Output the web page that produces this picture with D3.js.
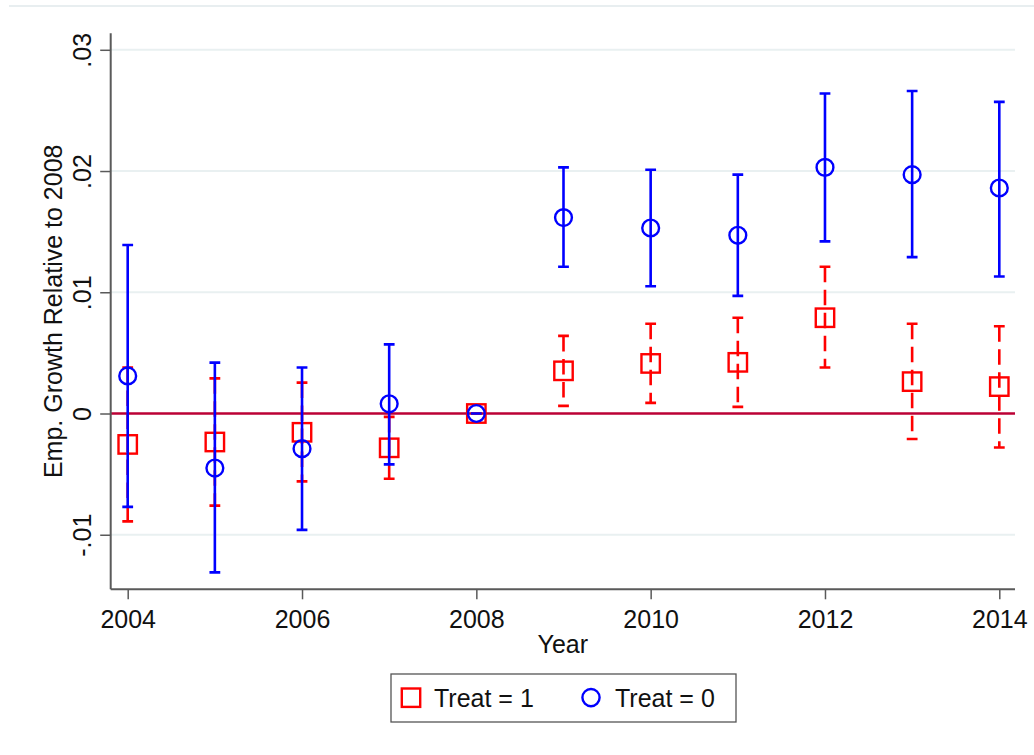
<!DOCTYPE html>
<html>
<head>
<meta charset="utf-8">
<script src="https://cdn.jsdelivr.net/npm/d3@7"></script>
<style>
  html, body { margin: 0; padding: 0; background: #fff; }
  svg { display: block; }
  text { font-family: "Liberation Sans", Arial, sans-serif; fill: #111; }
</style>
</head>
<body>
<svg id="chart" width="1034" height="755"></svg>
<script>
// ---- data ----
const years = [2004, 2005, 2006, 2007, 2008, 2009, 2010, 2011, 2012, 2013, 2014];

// Treat = 1 (red squares)
const treat1Est = [-0.00255, -0.00235, -0.00155, -0.00283, 0, 0.00352, 0.00413, 0.00422, 0.0079, 0.00263, 0.00222];
const treat1Lo  = [-0.0089, -0.0076, -0.0056, -0.00538, 0, 0.00063, 0.00088, 0.00055, 0.0038, -0.0021, -0.0028];
const treat1Hi  = [0.0038, 0.0029, 0.00255, -0.00028, 0, 0.0064, 0.0074, 0.0079, 0.0121, 0.0074, 0.0072];

// Treat = 0 (blue circles)
const treat0Est = [0.0031, -0.0045, -0.0029, 0.0008, 0, 0.01616, 0.0153, 0.0147, 0.0203, 0.0197, 0.0186];
const treat0Lo  = [-0.0077, -0.0131, -0.0096, -0.0042, 0, 0.0121, 0.0105, 0.0097, 0.0142, 0.0129, 0.0113];
const treat0Hi  = [0.0139, 0.0042, 0.0038, 0.0057, 0, 0.0203, 0.0201, 0.0197, 0.0264, 0.0266, 0.0257];

const yTickValues = [-0.01, 0, 0.01, 0.02, 0.03];
const yTickLabels = ["-.01", "0", ".01", ".02", ".03"];
const xTickValues = [2004, 2006, 2008, 2010, 2012, 2014];
const xTickLabels = ["2004", "2006", "2008", "2010", "2012", "2014"];
const legendLabels = ["Treat = 1", "Treat = 0"];
const yTitle = "Emp. Growth Relative to 2008";
const xTitle = "Year";

// ---- layout ----
const svg = d3.select("#chart");
const plotLeft = 110.7, plotRight = 1015, plotTop = 33.3, plotBottom = 589.3;
const x = d3.scaleLinear().domain([2004, 2014]).range([127.7, 999.3]);
const y = d3.scaleLinear().domain([-0.0145, 0.03136]).range([plotBottom, plotTop]);

const RED = "#ff0000", BLUE = "#0000ff", ZERO = "#bb0035";
const GRID = "#e9f0f1", AXIS = "#5a5a5a";

// outer frame top line
svg.append("line").attr("x1", 9).attr("x2", 1034).attr("y1", 6).attr("y2", 6)
  .attr("stroke", "#e8eef0").attr("stroke-width", 2);

// gridlines
svg.append("g").selectAll("line")
  .data(yTickValues.filter(v => v !== 0))
  .join("line")
  .attr("x1", plotLeft).attr("x2", plotRight)
  .attr("y1", d => y(d)).attr("y2", d => y(d))
  .attr("stroke", GRID).attr("stroke-width", 2);

// zero line
svg.append("line")
  .attr("x1", plotLeft).attr("x2", plotRight)
  .attr("y1", y(0)).attr("y2", y(0))
  .attr("stroke", ZERO).attr("stroke-width", 2.5);

// y axis
const yAxis = d3.axisLeft(y).tickValues(yTickValues).tickSize(10.5)
  .tickFormat((d, i) => yTickLabels[i]);
const gy = svg.append("g").attr("transform", `translate(${plotLeft},0)`).call(yAxis);
gy.select(".domain").attr("d", `M0,${plotTop}V${plotBottom}`).attr("stroke", AXIS).attr("stroke-width", 2);
gy.selectAll(".tick line").attr("stroke", AXIS).attr("stroke-width", 1.5);
gy.selectAll(".tick text")
  .attr("x", null).attr("dy", null)
  .attr("transform", `translate(-20,0) rotate(-90)`)
  .attr("text-anchor", "middle")
  .style("font-size", "25px").style("font-family", '"Liberation Sans", Arial, sans-serif').attr("fill", "#111");

// x axis
const xAxis = d3.axisBottom(x).tickValues(xTickValues).tickSize(10)
  .tickFormat((d, i) => xTickLabels[i]);
const gx = svg.append("g").attr("transform", `translate(0,${plotBottom})`).call(xAxis);
gx.select(".domain").attr("d", `M${plotLeft},0H${plotRight}`).attr("stroke", AXIS).attr("stroke-width", 2);
gx.selectAll(".tick line").attr("stroke", AXIS).attr("stroke-width", 1.5);
gx.selectAll(".tick text")
  .attr("y", 38.7).attr("dy", null)
  .attr("text-anchor", "middle")
  .style("font-size", "25px").style("font-family", '"Liberation Sans", Arial, sans-serif').attr("fill", "#111");

// axis titles
svg.append("text")
  .attr("transform", `translate(62,${(plotTop + plotBottom) / 2}) rotate(-90)`)
  .attr("text-anchor", "middle").style("font-size", "25px").text(yTitle);
svg.append("text")
  .attr("x", (plotLeft + plotRight) / 2).attr("y", 653)
  .attr("text-anchor", "middle").style("font-size", "25px").text(xTitle);

// ---- series ----
const capHalf = 5.4;
function drawCI(est, lo, hi, color, dashed) {
  const g = svg.append("g");
  const rows = years.map((yr, i) => ({ yr, lo: lo[i], hi: hi[i] }));
  g.selectAll("path.ci").data(rows).join("path")
    .attr("d", d => `M${x(d.yr)},${y(d.hi)}V${y(d.lo)}`)
    .attr("stroke", color).attr("stroke-width", 2.6).attr("fill", "none")
    .attr("stroke-dasharray", dashed ? "15.5,7.5" : null);
  g.selectAll("path.cap").data(rows).join("path")
    .attr("d", d => `M${x(d.yr) - capHalf},${y(d.hi)}H${x(d.yr) + capHalf}M${x(d.yr) - capHalf},${y(d.lo)}H${x(d.yr) + capHalf}`)
    .attr("stroke", color).attr("stroke-width", 2.6).attr("fill", "none");
  return g;
}

// Treat = 1
drawCI(treat1Est, treat1Lo, treat1Hi, RED, true);
svg.append("g").selectAll("rect").data(years.map((yr, i) => ({ yr, v: treat1Est[i] })))
  .join("rect")
  .attr("x", d => x(d.yr) - 9.2).attr("y", d => y(d.v) - 9.2)
  .attr("width", 18.4).attr("height", 18.4)
  .attr("fill", "none").attr("stroke", RED).attr("stroke-width", 2.4);

// Treat = 0
drawCI(treat0Est, treat0Lo, treat0Hi, BLUE, false);
svg.append("g").selectAll("circle").data(years.map((yr, i) => ({ yr, v: treat0Est[i] })))
  .join("circle")
  .attr("cx", d => x(d.yr)).attr("cy", d => y(d.v)).attr("r", 8.4)
  .attr("fill", "none").attr("stroke", BLUE).attr("stroke-width", 2.4);

// ---- legend ----
const lg = svg.append("g");
lg.append("rect").attr("x", 391).attr("y", 674).attr("width", 345).attr("height", 48)
  .attr("fill", "#fff").attr("stroke", "#555").attr("stroke-width", 1.3);
lg.append("rect").attr("x", 401.8).attr("y", 688.5).attr("width", 18.4).attr("height", 18.4)
  .attr("fill", "none").attr("stroke", RED).attr("stroke-width", 2.4);
lg.append("text").attr("x", 434).attr("y", 707).style("font-size", "25px").text(legendLabels[0]);
lg.append("circle").attr("cx", 591).attr("cy", 697.6).attr("r", 8.6)
  .attr("fill", "none").attr("stroke", BLUE).attr("stroke-width", 2.4);
lg.append("text").attr("x", 615).attr("y", 707).style("font-size", "25px").text(legendLabels[1]);
</script>
</body>
</html>
